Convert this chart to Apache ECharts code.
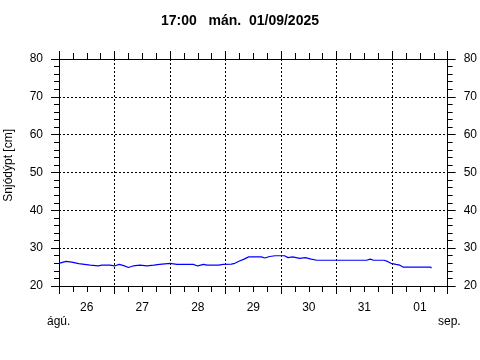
<!DOCTYPE html>
<html><head><meta charset="utf-8">
<script src="https://cdn.jsdelivr.net/npm/echarts@6/dist/echarts.min.js"></script>
<style>html,body{margin:0;padding:0;background:#fff}#c{width:480px;height:360px}</style>
</head><body><div id="c"></div>
<script>
var titleText = '17:00   mán.  01/09/2025';
var yName = 'Snjódýpt [cm]';
var startTime = '2025-08-26 00:00';
var endTime = '2025-09-02 00:00';
var dayLabels = ['26', '27', '28', '29', '30', '31', '01'];
var monthLabels = ['ágú.', 'sep.'];
var yTicks = [20, 30, 40, 50, 60, 70, 80];
var times = [
 '2025-08-26 00:00','2025-08-26 03:00','2025-08-26 05:30','2025-08-26 08:30','2025-08-26 11:00',
 '2025-08-26 13:30','2025-08-26 17:00','2025-08-26 18:30','2025-08-26 22:00','2025-08-27 00:00',
 '2025-08-27 02:00','2025-08-27 04:00','2025-08-27 06:00','2025-08-27 08:00','2025-08-27 11:00',
 '2025-08-27 14:00','2025-08-27 17:00','2025-08-27 19:30','2025-08-28 00:00','2025-08-28 03:00',
 '2025-08-28 10:00','2025-08-28 12:00','2025-08-28 14:30','2025-08-28 16:00','2025-08-28 21:00',
 '2025-08-28 23:00','2025-08-29 02:30','2025-08-29 04:00','2025-08-29 06:00','2025-08-29 08:00',
 '2025-08-29 10:00','2025-08-29 15:30','2025-08-29 17:00','2025-08-29 19:00','2025-08-29 21:30',
 '2025-08-30 01:30','2025-08-30 03:00','2025-08-30 05:00','2025-08-30 08:00','2025-08-30 10:30',
 '2025-08-30 13:00','2025-08-30 15:30','2025-08-31 13:00','2025-08-31 14:30','2025-08-31 16:00',
 '2025-08-31 20:30','2025-08-31 22:00','2025-08-31 23:30','2025-09-01 01:40','2025-09-01 03:20',
 '2025-09-01 04:40','2025-09-01 16:40','2025-09-01 17:00'
];
var snow = [
 26.0,26.5,26.3,25.9,25.7,
 25.5,25.3,25.5,25.5,25.3,
 25.7,25.4,24.9,25.3,25.5,
 25.3,25.5,25.7,26.0,25.7,
 25.7,25.3,25.7,25.5,25.5,
 25.7,25.8,26.0,26.6,27.1,
 27.7,27.7,27.4,27.8,28.0,
 28.0,27.5,27.7,27.3,27.5,
 27.1,26.8,26.8,27.1,26.8,
 26.8,26.5,26.0,25.7,25.5,
 25.0,25.0,24.7
];

function toMs(s){
  var p = s.split(/[- :]/).map(Number);
  return Date.UTC(p[0], p[1]-1, p[2], p[3], p[4]);
}
var t0 = toMs(startTime);
var totalH = (toMs(endTime) - t0) / 3600000;
var data = times.map(function(t, i){ return [(toMs(t) - t0) / 3600000, snow[i]]; });

var FONT = 'Liberation Sans, Arial, sans-serif';
var black = '#000';
var dotted = {show: true, lineStyle: {color: black, type: [2, 2], width: 1}};

function xMain(pos, grid){
  return {type: 'value', position: pos, min: 0, max: totalH, interval: 24,
    axisLine: {show: true, onZero: false, lineStyle: {color: black, width: 1}},
    axisTick: {show: true, length: 8, lineStyle: {color: black}},
    minorTick: {show: true, splitNumber: 4, length: 6, lineStyle: {color: black}},
    axisLabel: {show: false},
    splitLine: grid ? dotted : {show: false}, minorSplitLine: {show: false}};
}
var xLabelAxis = {type: 'value', position: 'bottom', min: 0, max: totalH, interval: 12,
  axisLine: {show: false}, axisTick: {show: false}, splitLine: {show: false},
  axisLabel: {show: true, margin: 16, color: black, fontFamily: FONT, fontSize: 12,
    showMinLabel: false, showMaxLabel: false,
    formatter: function(v){ return (v % 24 === 12) ? dayLabels[Math.floor(v / 24)] : ''; }}};

function yAx(pos, grid){
  return {type: 'value', position: pos, min: yTicks[0], max: yTicks[yTicks.length-1], interval: 10,
    axisLine: {show: true, onZero: false, lineStyle: {color: black, width: 1}},
    axisTick: {show: true, length: 8, lineStyle: {color: black}},
    minorTick: {show: true, splitNumber: 5, length: 5, lineStyle: {color: black}},
    axisLabel: {show: true, margin: 16, color: black, fontFamily: FONT, fontSize: 12},
    splitLine: grid ? dotted : {show: false}};
}

var chart = echarts.init(document.getElementById('c'), null, {renderer: 'canvas'});
chart.setOption({
  animation: false,
  backgroundColor: '#fff',
  title: {text: titleText, left: 'center', top: 9,
    textStyle: {fontFamily: FONT, fontSize: 14, fontWeight: 'bold', color: black}},
  grid: {left: 59, right: 31, top: 59, bottom: 74, containLabel: false},
  xAxis: [xMain('bottom', true), xMain('top', false), xLabelAxis],
  yAxis: [yAx('left', true), yAx('right', false)],
  graphic: [
    {type: 'text', left: 3, top: 129, rotation: Math.PI/2, originX: 0, originY: 0,
     style: {text: yName, fill: black, font: '12px ' + FONT}},
    {type: 'text', x: 47, y: 316, style: {text: monthLabels[0], fill: black, font: '12px ' + FONT}},
    {type: 'text', x: 438, y: 316, style: {text: monthLabels[1], fill: black, font: '12px ' + FONT}}
  ],
  series: [{type: 'line', xAxisIndex: 0, yAxisIndex: 0, data: data, showSymbol: false,
    lineStyle: {color: '#0000ff', width: 1.2}, itemStyle: {color: '#0000ff'}}]
});
</script></body></html>
